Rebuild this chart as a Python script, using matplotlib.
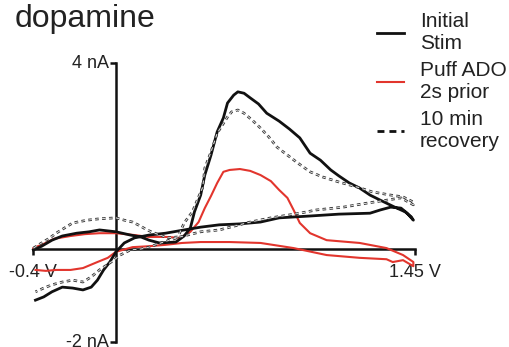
import numpy as np
import matplotlib
matplotlib.use("Agg")
import matplotlib.pyplot as plt
from matplotlib.lines import Line2D

plt.rcParams['font.family'] = ['Liberation Sans', 'DejaVu Sans']
plt.rcParams['lines.scale_dashes'] = False

# cyclic voltammograms: forward scan -0.4 -> 1.45 V, then back (V, nA)
stim_v = [-0.40, -0.36, -0.31, -0.26, -0.19, -0.13, -0.08, 0.00, 0.07, 0.12, 0.16, 0.21,
          0.29, 0.33, 0.36, 0.38, 0.41, 0.43, 0.46, 0.49, 0.52, 0.54, 0.57, 0.59, 0.62,
          0.65, 0.69, 0.73, 0.79, 0.84, 0.89, 0.94, 0.99, 1.04, 1.08, 1.13, 1.18, 1.23,
          1.28, 1.35, 1.40, 1.43,
          1.44, 1.41, 1.38, 1.33, 1.28, 1.23, 1.08, 0.94, 0.79, 0.70, 0.60, 0.50, 0.41,
          0.33, 0.24, 0.16, 0.09, 0.04, 0.00, -0.03, -0.06, -0.09, -0.12, -0.16, -0.21,
          -0.26, -0.31, -0.35, -0.39]
stim_i = [-0.02, 0.06, 0.19, 0.28, 0.34, 0.37, 0.41, 0.37, 0.30, 0.26, 0.19, 0.13,
          0.15, 0.28, 0.45, 0.80, 1.16, 1.59, 2.02, 2.52, 2.82, 3.14, 3.31, 3.38, 3.35,
          3.25, 3.12, 2.92, 2.75, 2.58, 2.39, 2.06, 1.91, 1.70, 1.57, 1.42, 1.31, 1.16,
          1.05, 0.90, 0.80, 0.69,
          0.62, 0.77, 0.88, 0.90, 0.84, 0.77, 0.75, 0.71, 0.67, 0.58, 0.54, 0.52, 0.47,
          0.41, 0.34, 0.30, 0.24, 0.13, -0.06, -0.28, -0.45, -0.67, -0.82, -0.88, -0.84,
          -0.82, -0.92, -1.03, -1.10]

puff_v = [-0.40, -0.34, -0.30, -0.22, -0.15, -0.08, 0.00, 0.09, 0.16, 0.24, 0.31, 0.36,
          0.40, 0.43, 0.46, 0.49, 0.52, 0.55, 0.60, 0.65, 0.70, 0.75, 0.79, 0.83, 0.86,
          0.89, 0.94, 1.02, 1.18, 1.31, 1.39, 1.44,
          1.44, 1.39, 1.34, 1.31, 1.18, 1.02, 0.86, 0.70, 0.55, 0.41, 0.32, 0.24, 0.16,
          0.08, 0.00, -0.04, -0.09, -0.16, -0.22, -0.29, -0.34, -0.39]
puff_i = [0.02, 0.13, 0.22, 0.28, 0.32, 0.34, 0.34, 0.30, 0.26, 0.26, 0.24, 0.37,
          0.58, 0.88, 1.14, 1.42, 1.66, 1.70, 1.72, 1.68, 1.59, 1.46, 1.27, 1.10, 0.84,
          0.56, 0.34, 0.19, 0.13, 0.02, -0.13, -0.28,
          -0.37, -0.24, -0.28, -0.22, -0.19, -0.13, 0.02, 0.13, 0.15, 0.15, 0.13, 0.09, 0.06,
          0.04, -0.06, -0.19, -0.28, -0.41, -0.45, -0.45, -0.47, -0.45]

rec_v = [-0.40, -0.36, -0.32, -0.29, -0.25, -0.21, -0.14, -0.08, 0.00, 0.04, 0.08, 0.12,
         0.15, 0.20, 0.25, 0.30, 0.33, 0.37, 0.40, 0.42, 0.43, 0.46, 0.49, 0.54, 0.56,
         0.59, 0.62, 0.66, 0.70, 0.74, 0.78, 0.83, 0.88, 0.94, 1.00, 1.08, 1.17, 1.24,
         1.33, 1.39, 1.44,
         1.44, 1.38, 1.31, 1.22, 1.10, 0.97, 0.89, 0.75, 0.65, 0.50, 0.41, 0.31, 0.23,
         0.16, 0.12, 0.07, 0.02, -0.01, -0.08, -0.12, -0.16, -0.21, -0.26, -0.31, -0.35,
         -0.39]
rec_i = [0.02, 0.13, 0.24, 0.34, 0.45, 0.56, 0.62, 0.65, 0.67, 0.62, 0.58, 0.49,
         0.41, 0.32, 0.24, 0.26, 0.56, 0.80, 1.12, 1.33, 1.74, 2.09, 2.49, 2.84, 2.95,
         2.99, 2.92, 2.77, 2.60, 2.41, 2.19, 2.02, 1.85, 1.66, 1.55, 1.44, 1.33, 1.23,
         1.16, 1.12, 1.01,
         0.95, 1.10, 1.05, 0.99, 0.90, 0.84, 0.77, 0.67, 0.58, 0.41, 0.37, 0.26, 0.15,
         0.04, 0.00, -0.02, -0.13, -0.24, -0.45, -0.60, -0.71, -0.67, -0.71, -0.77, -0.84,
         -0.92]

labels = ["Initial\nStim", "Puff ADO\n2s prior", "10 min\nrecovery"]
x_ticks = [-0.4, 1.45]
x_tick_labels = ["-0.4 V", "1.45 V"]
y_ticks = [-2, 4]
y_tick_labels = ["-2 nA", "4 nA"]

red = '#e2352d'
dash = (2.6, 2.4)

fig = plt.figure(figsize=(5.09, 3.47), dpi=100)
ax = fig.add_axes([0.02505, 0.001, 0.85197, 0.8308])
ax.set_xlim(-0.5, 1.6)
ax.set_ylim(-2.1, 4.1)

ax.plot(stim_v, stim_i, color='#111111', lw=2.0, solid_joinstyle='round', clip_on=False, zorder=3)
ax.plot(puff_v, puff_i, color=red, lw=1.5, solid_joinstyle='round', clip_on=False, zorder=2)
ax.plot(rec_v, rec_i, color='#333333', lw=1.9, dashes=dash, clip_on=False, zorder=4)
ax.plot(rec_v, rec_i, color='#f2f2f2', lw=0.6, dashes=dash, clip_on=False, zorder=5)

for side in ['top', 'right']:
    ax.spines[side].set_visible(False)
ax.spines['left'].set_position(('data', 0))
ax.spines['bottom'].set_position(('data', 0))
ax.spines['left'].set_bounds(-2, 4)
ax.spines['bottom'].set_bounds(-0.4, 1.45)
for side in ['left', 'bottom']:
    ax.spines[side].set_linewidth(1.8)
    ax.spines[side].set_color('#111111')
    ax.spines[side].set_zorder(1)

ax.set_xticks(x_ticks)
ax.set_xticklabels(x_tick_labels)
ax.set_yticks(y_ticks)
ax.set_yticklabels(y_tick_labels)
ax.tick_params(axis='both', direction='out', length=4, width=1.8, color='#111111',
               labelsize=13, labelcolor='#222222')
ax.tick_params(axis='x', pad=7)
ax.tick_params(axis='y', pad=1)
for lab in ax.get_yticklabels():
    lab.set_verticalalignment('center')

fig.text(15 / 509, 1 - 27 / 347, "dopamine", fontsize=23, color='#222222', va='baseline', ha='left')

handles = [Line2D([], [], color='#111111', lw=2.0),
           Line2D([], [], color=red, lw=1.5),
           Line2D([], [], color='#111111', lw=2.0, dashes=(5, 3.6))]
leg = fig.legend(handles, labels, loc='upper right', bbox_to_anchor=(1.012, 0.99),
                 frameon=False, fontsize=15, handlelength=1.3, handletextpad=0.75,
                 labelspacing=0.4, borderaxespad=0.2, borderpad=0.2)
for t in leg.get_texts():
    t.set_color('#222222')

fig.savefig("out.png", dpi=100)
